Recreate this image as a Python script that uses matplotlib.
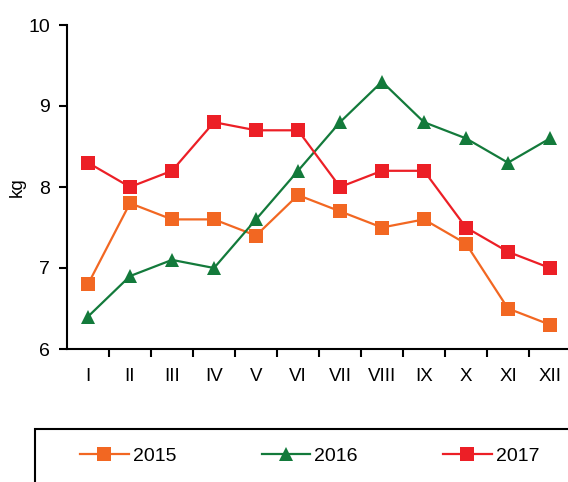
import matplotlib
matplotlib.use("Agg")
import matplotlib.pyplot as plt
from matplotlib.patches import Rectangle

plt.rcParams["font.family"] = ["Liberation Sans", "DejaVu Sans"]

months = ["I", "II", "III", "IV", "V", "VI", "VII", "VIII", "IX", "X", "XI", "XII"]
kg_2015 = [6.8, 7.8, 7.6, 7.6, 7.4, 7.9, 7.7, 7.5, 7.6, 7.3, 6.5, 6.3]
kg_2016 = [6.4, 6.9, 7.1, 7.0, 7.6, 8.2, 8.8, 9.3, 8.8, 8.6, 8.3, 8.6]
kg_2017 = [8.3, 8.0, 8.2, 8.8, 8.7, 8.7, 8.0, 8.2, 8.2, 7.5, 7.2, 7.0]
years = ["2015", "2016", "2017"]


def main():
    W, H = 568, 482
    fig = plt.figure(figsize=(W / 100, H / 100), dpi=100)
    ax = fig.add_axes([67 / W, (H - 349) / H, 504 / W, 324 / H])

    x = range(len(months))
    styles = [
        (kg_2015, "#F26722", "s", 10),
        (kg_2016, "#137A3B", "^", 10),
        (kg_2017, "#EC1F26", "s", 10),
    ]
    handles = []
    for (vals, col, mk, ms), lab in zip(styles, years):
        h, = ax.plot(x, vals, color=col, marker=mk, markersize=ms, lw=1.6,
                     markeredgewidth=0, label=lab, clip_on=False)
        handles.append(h)

    ax.set_xlim(-0.5, 11.5)
    ax.set_ylim(6, 10)
    ax.set_yticks([6, 7, 8, 9, 10])
    ax.set_xticks(list(x))
    ax.set_xticklabels(months)
    # category boundaries carry the tick marks
    ax.set_xticks([i + 0.5 for i in range(12)], minor=True)
    ax.tick_params(axis="x", which="major", length=0, pad=14, labelsize=13.5)
    ax.tick_params(axis="x", which="minor", length=6, width=1.5, direction="out")
    ax.tick_params(axis="y", length=6, width=1.5, direction="out", labelsize=14,
                   pad=6)

    for s in ["top", "right"]:
        ax.spines[s].set_visible(False)
    for s in ["left", "bottom"]:
        ax.spines[s].set_linewidth(1.5)

    ax.set_ylabel("kg", fontsize=13.5, labelpad=2)

    # legend box running off the lower right edge
    fig.add_artist(Rectangle((35 / W, -0.1), 1.0, (H - 429) / H + 0.1,
                             transform=fig.transFigure, fill=False,
                             edgecolor="black", lw=1.5))
    fig.legend(handles=handles, labels=years, ncol=3, frameon=False,
               loc="center left", bbox_to_anchor=(80 / W, (H - 456) / H),
               borderpad=0, borderaxespad=0,
               fontsize=14, handlelength=2.5, handletextpad=0.2,
               columnspacing=4.4, markerscale=0.95)

    fig.savefig("out.png", dpi=100)


if __name__ == '__main__':
    main()
